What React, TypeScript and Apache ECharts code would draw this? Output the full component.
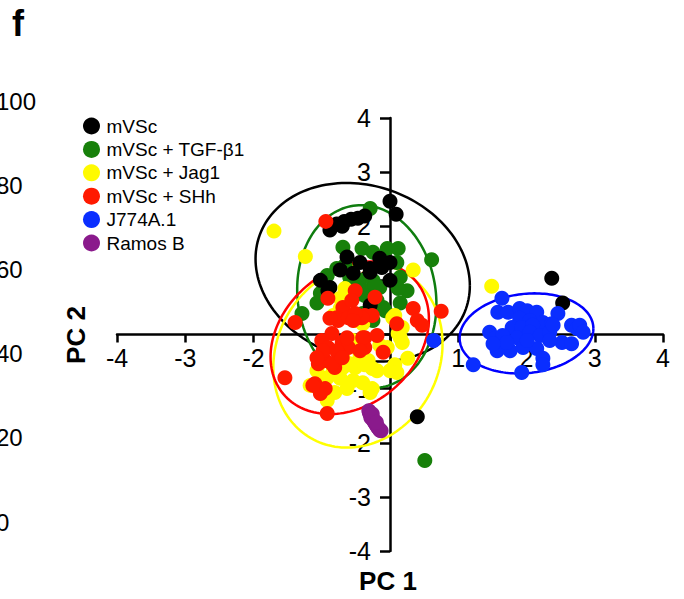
import React, { useEffect, useRef } from "react";
import * as echarts from "echarts";

const FONT = "'Liberation Sans', Arial, Helvetica, sans-serif";

const seriesNames = ["mVSc", "mVSc + TGF-β1", "mVSc + Jag1", "mVSc + SHh", "J774A.1", "Ramos B"];
const seriesColors = ["#000000", "#17800a", "#fffa00", "#ff1a00", "#0a2eff", "#8a1a8c"];

const mVSc = [
  [-0.88, 1.93], [-0.78, 2.04], [-0.67, 2.09], [-0.57, 2.13], [-0.47, 2.15], [-0.37, 2.19],
  [-0.7, 2.0], [0.0, 2.46], [0.09, 2.22], [-0.63, 1.43], [-0.44, 1.33], [-0.15, 1.41],
  [-0.12, 1.24], [-0.29, 1.22], [-0.54, 1.13], [-0.73, 1.19], [-1.02, 1.0], [-0.88, 0.87],
  [0.0, 1.0], [-0.29, 1.15], [-0.29, 0.54], [-0.91, 0.81], [0.0, 1.33],
  [2.37, 1.04], [2.53, 0.58], [0.4, -1.52],
];

const tgf = [
  [-0.29, 2.33], [-0.69, 1.61], [-0.41, 1.59], [-0.25, 1.52], [-0.04, 1.59], [0.12, 1.59],
  [0.61, 1.38], [0.1, 1.33], [0.15, 1.06], [-0.92, 1.09], [-1.02, 0.76], [-1.07, 0.58],
  [-1.29, 0.39], [-0.78, 1.22], [-0.59, 1.06], [-0.44, 1.0], [-0.25, 1.0], [-0.15, 0.87],
  [-0.34, 0.81], [-0.63, 0.87], [-0.54, 0.69], [-0.19, 0.63], [-0.1, 0.5], [0.1, 1.0],
  [0.25, 0.81], [0.15, 0.58], [-0.25, 0.26], [-0.4, 0.39], [-0.47, 0.87], [-0.22, 0.9],
  [0.12, 0.85], [-0.07, 0.44], [-0.66, 1.28], [-0.37, 0.72], [0.51, -2.33],
];

const jag1 = [
  [-1.7, 1.91], [-1.24, 1.44], [1.49, 0.89], [0.34, 1.19], [-0.66, 0.85], [-0.73, 0.67],
  [-0.83, 0.35], [-0.4, 0.2], [0.04, 0.31], [0.18, 0.13], [-0.51, 0.26], [0.07, 0.35],
  [0.12, 0.02], [0.18, -0.15], [-0.04, -0.24], [0.26, -0.44], [0.07, -0.56], [0.0, -0.67],
  [-0.41, -0.17], [-0.32, -0.48], [-0.26, -0.63], [-0.51, -0.61], [-0.44, -0.43], [-0.54, -0.11],
  [-0.44, -0.35], [-0.69, -0.43], [-0.59, -0.54], [-0.19, -0.67], [0.15, -0.06], [-0.83, -0.67],
  [-0.73, -0.81], [-0.54, -0.85], [-0.4, -0.89], [-0.26, -1.0], [-1.17, -0.94], [-0.92, -0.8],
  [-1.02, -0.52], [-1.07, -0.67], [-0.92, -1.22], [-0.63, -1.0], [-0.81, -1.07], [-0.29, -1.07],
  [0.1, -0.7], [-0.69, -0.61], [-0.37, -0.56], [-0.15, -0.2], [-0.73, 0.48],
];

const shh = [
  [-0.94, 2.09], [-0.51, 0.81], [-0.22, 0.69], [-0.91, 0.67], [0.34, 0.48], [0.75, 0.43],
  [-1.39, 0.22], [-0.69, 0.5], [-0.48, 0.31], [-0.37, 0.35], [-0.26, 0.35], [-0.78, 0.31],
  [0.1, 0.2], [0.4, 0.26], [0.47, 0.17], [-0.41, 0.31], [-0.37, -0.06], [-0.19, -0.02],
  [-0.37, -0.24], [-0.1, -0.33], [-0.56, 0.63], [-0.76, 0.26], [-0.61, 0.31], [-0.51, 0.39],
  [-0.85, 0.02], [-1.0, -0.11], [-0.91, -0.24], [-0.7, -0.15], [-0.61, -0.24], [-0.76, -0.35],
  [-0.95, -0.48], [-1.05, -0.54], [-0.81, -0.61], [-1.54, -0.8], [-1.1, -0.91], [-0.95, -1.0],
  [-1.02, -1.09], [-0.92, -1.46], [-0.98, -0.3], [-0.78, -0.3], [-0.63, -0.06], [-0.4, -0.06],
  [-0.54, 0.26], [-0.88, 0.3], [-1.07, -0.43], [-0.85, -0.54], [-0.7, -0.43], [-0.44, -0.3],
  [-1.13, -0.94],
];

const j774 = [
  [1.64, 0.67], [1.58, 0.41], [1.73, 0.41], [1.9, 0.48], [2.01, 0.44], [2.15, 0.41],
  [2.46, 0.39], [1.9, 0.3], [2.05, 0.26], [2.24, 0.22], [2.37, 0.2], [1.79, 0.13],
  [1.93, 0.13], [2.09, 0.17], [2.66, 0.17], [2.74, 0.11], [2.78, 0.17], [2.83, 0.04],
  [1.46, 0.04], [1.54, -0.07], [1.65, -0.02], [1.86, -0.06], [2.05, 0.04], [2.2, -0.02],
  [2.34, 0.04], [2.39, 0.17], [2.52, -0.15], [2.66, -0.17], [1.57, -0.3], [1.76, -0.3],
  [1.95, -0.24], [2.15, -0.26], [2.24, -0.44], [2.24, -0.56], [1.93, -0.7], [1.22, -0.56],
  [2.34, -0.11], [1.71, -0.15], [1.51, -0.17], [2.01, -0.11], [0.64, -0.11],
];

const ramos = [
  [-0.31, -1.41], [-0.3, -1.45], [-0.29, -1.48], [-0.27, -1.51], [-0.28, -1.54], [-0.25, -1.56],
  [-0.24, -1.6], [-0.22, -1.63], [-0.21, -1.66], [-0.19, -1.69], [-0.18, -1.72], [-0.16, -1.74],
  [-0.15, -1.77], [-0.13, -1.78], [-0.26, -1.47], [-0.2, -1.62],
];

// confidence ellipses: [centerX, centerY, halfWidth, halfHeight, skew, colorIndex]
const ellipses = [
  [-0.4, 1.15, 1.57, 1.65, -0.15, 0],
  [-0.34, 0.7, 1.02, 1.69, -0.08, 1],
  [-0.47, -0.39, 1.24, 1.7, 0.13, 2],
  [-0.59, -0.06, 1.16, 1.41, 0.25, 3],
  [2.0, 0.02, 0.98, 0.74, 0.12, 4],
];
const ellipseColors = ["#000000", "#0f7d0f", "#ffff00", "#ff0000", "#0000ff"];

const neighbourTicks = ["100", "80", "60", "40", "20", "0"];

const GRID = { left: 117, right: 21, top: 118, bottom: 48 };
const W = 684;
const H = 599;

export default function App() {
  const ref = useRef<HTMLDivElement>(null);
  useEffect(() => {
    if (!ref.current) return;
    const chart = echarts.init(ref.current, undefined, { renderer: "svg" });
    const dataSets = [mVSc, tgf, jag1, shh, j774, ramos];
    const drawOrder = [1, 0, 2, 3, 4, 5];
    const gridW = W - GRID.left - GRID.right;
    const gridH = H - GRID.top - GRID.bottom;
    const axisCommon = {
      type: "value" as const,
      min: -4,
      max: 4,
      interval: 1,
      splitLine: { show: false },
      axisLine: { show: true, onZero: false, lineStyle: { color: "#000", width: 2.5 } },
      axisTick: { show: true, lineStyle: { color: "#000", width: 2.5 } },
    };
    chart.setOption({
      animation: false,
      backgroundColor: "#fff",
      grid: { ...GRID, containLabel: false },
      xAxis: {
        ...axisCommon,
        position: "bottom",
        offset: -gridH / 2,
        axisTick: { ...axisCommon.axisTick, length: 8 },
        axisLabel: {
          margin: 11,
          fontSize: 25,
          color: "#000",
          fontFamily: FONT,
          showMinLabel: true,
          showMaxLabel: true,
          formatter: (v: number) => (v === 0 ? "" : String(v)),
        },
      },
      yAxis: {
        ...axisCommon,
        position: "left",
        offset: -gridW / 2,
        axisTick: { ...axisCommon.axisTick, length: 10 },
        axisLabel: {
          margin: 19,
          fontSize: 25,
          color: "#000",
          fontFamily: FONT,
          showMinLabel: true,
          showMaxLabel: true,
          formatter: (v: number) => (v === 0 ? "" : String(v)),
        },
      },
      legend: {
        orient: "vertical",
        left: 83,
        top: 116.5,
        padding: 0,
        itemWidth: 20,
        itemHeight: 17,
        itemGap: 4.4,
        icon: "circle",
        data: seriesNames,
        selectedMode: false,
        textStyle: { fontSize: 19, lineHeight: 19, color: "#000", fontFamily: FONT },
      },
      graphic: [
        {
          type: "text",
          x: 12,
          y: 23,
          style: { text: "f", font: `bold 36px ${FONT}`, fill: "#000", textAlign: "left", textVerticalAlign: "middle" },
        },
        ...neighbourTicks.map((t, i) => ({
          type: "text",
          x: -4,
          y: 101 + i * 84.2,
          style: { text: t, font: `24px ${FONT}`, fill: "#000", textAlign: "left", textVerticalAlign: "middle" },
        })),
        {
          type: "text",
          x: 388,
          y: 581,
          style: { text: "PC 1", font: `bold 26px ${FONT}`, fill: "#000", textAlign: "center", textVerticalAlign: "middle" },
        },
        {
          type: "text",
          x: 76,
          y: 335,
          rotation: Math.PI / 2,
          style: { text: "PC 2", font: `bold 26px ${FONT}`, fill: "#000", textAlign: "center", textVerticalAlign: "middle" },
        },
      ],
      series: [
        {
          type: "custom",
          name: "ellipses",
          z: 1,
          clip: false,
          data: ellipses,
          renderItem: (params: any, api: any) => {
            const cx = api.value(0), cy = api.value(1), rx = api.value(2), ry = api.value(3), s = api.value(4);
            const phi = Math.asin(s);
            const pts: number[][] = [];
            for (let i = 0; i <= 160; i++) {
              const t = (i / 160) * Math.PI * 2;
              pts.push(api.coord([cx + rx * Math.cos(t), cy + ry * Math.sin(t + phi)]));
            }
            return {
              type: "polyline",
              shape: { points: pts },
              style: { fill: null, stroke: ellipseColors[api.value(5)], lineWidth: 2.5 },
            };
          },
        },
        ...drawOrder.map((k) => ({
          type: "scatter",
          name: seriesNames[k],
          z: 3,
          symbol: "circle",
          symbolSize: 15,
          data: dataSets[k],
          itemStyle: { color: seriesColors[k], opacity: 1 },
        })),
      ],
    });
    return () => chart.dispose();
  }, []);
  return <div ref={ref} style={{ position: "fixed", left: 0, top: 0, width: W, height: H, background: "#fff" }} />;
}
